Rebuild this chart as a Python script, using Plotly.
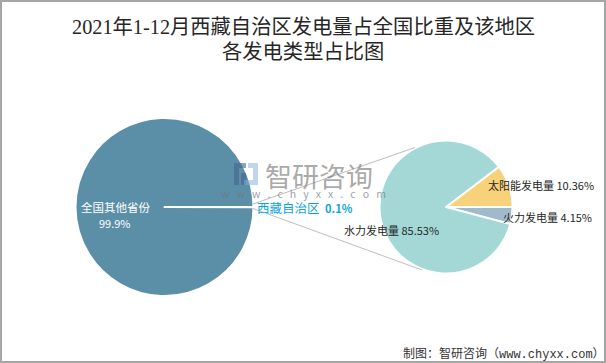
import plotly.graph_objects as go

W, H = 606, 363
title_lines = ["2021年1-12月西藏自治区发电量占全国比重及该地区", "各发电类型占比图"]
left_labels = ["西藏自治区", "全国其他省份"]
left_values = [0.1, 99.9]
left_colors = ["#5B8FA8", "#5B8FA8"]
right_labels = ["太阳能发电量", "火力发电量", "水力发电量"]
right_values = [10.36, 4.15, 85.53]
right_colors = ["#F7D27B", "#9FBBCB", "#A3D8D6"]
source = "制图：智研咨询（www.chyxx.com）"
watermark_url = "www.chyxx.com"

SANS = "Noto Sans CJK SC, Open Sans, sans-serif"
SERIF = "Liberation Serif, Noto Sans CJK SC, serif"
MONO = "Liberation Mono, Noto Sans CJK SC, monospace"

def px(x): return x / W
def py(y): return 1 - y / H
def dom(cx, cy, r):
    return dict(x=[px(cx - r), px(cx + r)], y=[py(cy + r), py(cy - r)])

fig = go.Figure()
fig.add_trace(go.Pie(labels=left_labels, values=left_values, sort=False, direction="clockwise",
                     rotation=90 - left_values[0] * 1.8,
                     marker=dict(colors=left_colors, line=dict(color="white", width=2)),
                     textinfo="none", hoverinfo="label+percent", showlegend=False,
                     domain=dom(164.5, 207, 89)))
fig.add_trace(go.Pie(labels=right_labels, values=right_values, sort=False, direction="clockwise",
                     rotation=90 - right_values[0] * 3.6,
                     marker=dict(colors=right_colors, line=dict(color="white", width=2)),
                     textinfo="none", hoverinfo="label+percent", showlegend=False,
                     domain=dom(446, 207, 66.5)))

def ann(x, y, text, color, size=11, font=SANS, xanchor="center"):
    fig.add_annotation(x=px(x), y=py(y), xref="paper", yref="paper", text=text, showarrow=False,
                       xanchor=xanchor, yanchor="middle", align="center",
                       font=dict(size=size, color=color, family=font))

ann(303, 27, title_lines[0], "#262626", 20.3, SERIF)
ann(303, 52, title_lines[1], "#262626", 20.3, SERIF)
ann(115, 207, left_labels[1], "white", 11.5)
ann(115, 223, f"{left_values[1]}%", "white", 11)
ann(255, 207, f"{left_labels[0]}\u00a0\u00a0<b><span style='font-size:11px'>{left_values[0]}%</span></b>", "#0AA5E0", 12.5, xanchor="left")
ann(392, 230, f"{right_labels[2]} {right_values[2]}%", "#262626", 11)
ann(486, 185, f"{right_labels[0]} {right_values[0]}%", "#262626", 11, xanchor="left")
ann(501, 217, f"{right_labels[1]} {right_values[1]}%", "#262626", 11, xanchor="left")
ann(401, 354, source, "#333333", 12, MONO, xanchor="left")

# watermark
ann(319, 175, "智研咨询", "rgba(120,120,120,0.65)", 27)
ann(303, 194, "\u00a0\u00a0\u00a0".join(watermark_url), "rgba(110,120,130,0.7)", 10.5)

shapes = []
def line(x0, y0, x1, y1, color, width):
    shapes.append(dict(type="line", xref="paper", yref="paper", x0=px(x0), y0=py(y0), x1=px(x1), y1=py(y1),
                       line=dict(color=color, width=width)))
def rect(x0, y0, x1, y1, color):
    shapes.append(dict(type="rect", xref="paper", yref="paper", x0=px(x0), y0=py(y0), x1=px(x1), y1=py(y1),
                       fillcolor=color, line=dict(width=0)))
# connectors from the small slice to the breakout pie
line(253, 204, 415, 147.5, "#BDBDBD", 1)
line(253, 208.5, 422, 270, "#BDBDBD", 1)
# logo
rect(234, 163, 246, 168, "rgba(70,100,140,0.6)")
rect(234, 168, 239, 185, "rgba(70,100,140,0.6)")
rect(241, 173, 246, 185, "rgba(70,100,140,0.6)")
rect(248, 163, 258, 168, "rgba(130,175,215,0.5)")
rect(253, 168, 258, 180, "rgba(130,175,215,0.5)")
rect(244, 180, 258, 185, "rgba(130,175,215,0.5)")
# outer frame
rect(0, 0, W, 2, "#A6A6A6")
rect(0, 361, W, H, "#A6A6A6")
rect(0, 0, 2, H, "#A6A6A6")
rect(604, 0, W, H, "#A6A6A6")

fig.update_layout(width=W, height=H, margin=dict(l=0, r=0, t=0, b=0), paper_bgcolor="white",
                  plot_bgcolor="white", shapes=shapes, showlegend=False)
fig.write_html("out.html", config={"displayModeBar": False},
               post_script="document.body.style.margin='0';document.documentElement.style.overflow='hidden';")
